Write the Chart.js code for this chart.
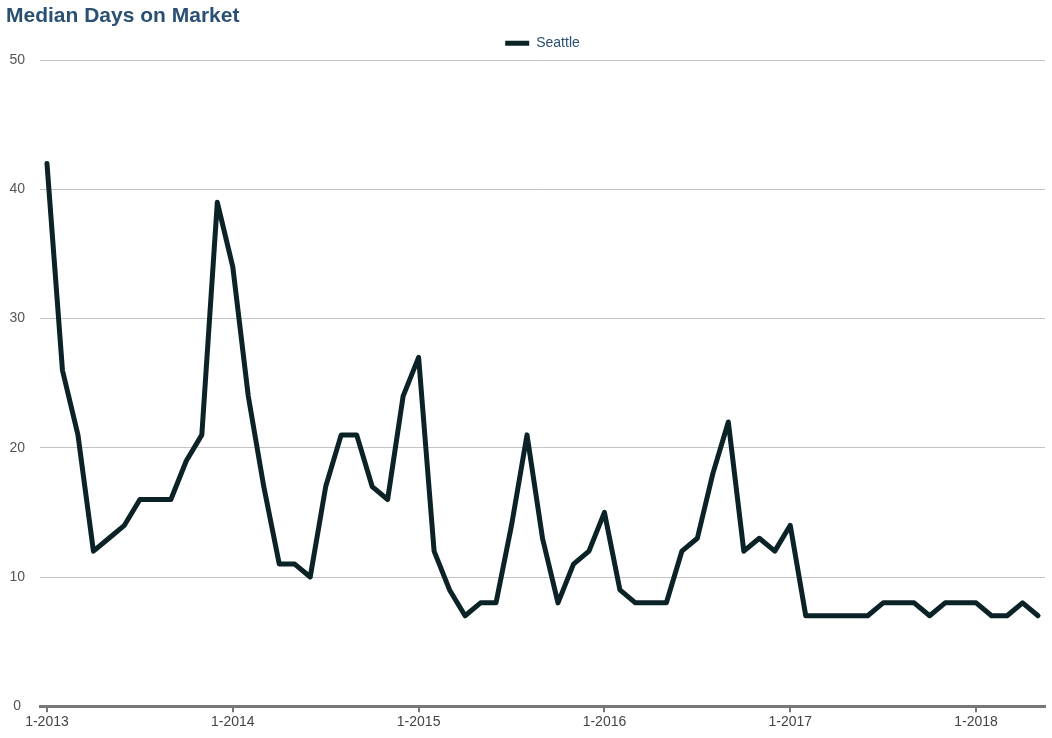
<!DOCTYPE html>
<html>
<head>
<meta charset="utf-8">
<script src="https://cdn.jsdelivr.net/npm/chart.js@4"></script>
<style>
  html, body { margin: 0; padding: 0; background: #fff; }
  #wrap { width: 1052px; height: 738px; }
</style>
</head>
<body>
<div id="wrap"><canvas id="myChart"></canvas></div>
<script>
// monthly median days on market, 1-2013 .. 5-2018
const seattle = [
    42, 26, 21, 12, 13, 14, 16, 16, 16, 19, 21, 39,
    34, 24, 17, 11, 11, 10, 17, 21, 21, 17, 16, 24,
    27, 12, 9, 7, 8, 8, 14, 21, 13, 8, 11, 12,
    15, 9, 8, 8, 8, 12, 13, 18, 22, 12, 13, 12,
    14, 7, 7, 7, 7, 7, 8, 8, 8, 7, 8, 8,
    8, 7, 7, 8, 7
]
const tickLabels = ['1-2013', '1-2014', '1-2015', '1-2016', '1-2017', '1-2018']
const tickPos = [0, 12, 24, 36, 48, 60]
const yTicks = [0, 10, 20, 30, 40, 50]

const points = seattle.map((v, i) => ({ x: i, y: v }))

// center the legend over the plot area instead of the whole canvas
const legendShift = {
    id: 'legendShift',
    afterLayout(chart) {
        const lg = chart.legend
        const ca = chart.chartArea
        const d = (ca.left + ca.right) / 2 - (lg.left + lg.right) / 2
        lg.left += d
        lg.right += d
    }
}

const ctx = document.getElementById('myChart').getContext('2d')
const myChart = new Chart(ctx, {
    type: 'line',
    data: {
        datasets: [{
            label: 'Seattle',
            data: points,
            borderColor: '#0b2227',
            backgroundColor: '#0b2227',
            borderWidth: 5,
            borderJoinStyle: 'round',
            borderCapStyle: 'round',
            pointRadius: 0,
            tension: 0
        }]
    },
    plugins: [legendShift],
    options: {
        responsive: true,
        maintainAspectRatio: false,
        animation: false,
        layout: { padding: { left: 6, right: 7, top: 0, bottom: 5 } },
        plugins: {
            title: {
                display: true,
                text: 'Median Days on Market',
                align: 'start',
                color: '#2a5074',
                font: { family: 'Liberation Sans', size: 21, weight: 'bold' },
                padding: { top: 4, bottom: 0 }
            },
            legend: {
                display: true,
                labels: {
                    boxWidth: 24,
                    boxHeight: 5,
                    color: '#2a5074',
                    font: { family: 'Liberation Sans', size: 14 },
                    padding: 7,
                    generateLabels: (chart) => {
                        const items = Chart.defaults.plugins.legend.labels.generateLabels(chart)
                        items.forEach(it => { it.lineWidth = 0 })
                        return items
                    }
                }
            },
            tooltip: { enabled: false }
        },
        scales: {
            x: {
                type: 'linear',
                min: -0.45,
                max: 64.45,
                afterBuildTicks: (scale) => {
                    scale.ticks = tickPos.map(v => ({ value: v }))
                },
                ticks: {
                    callback: (v) => tickLabels[tickPos.indexOf(v)],
                    color: '#444',
                    font: { family: 'Liberation Sans', size: 14 },
                    maxRotation: 0,
                    padding: 2
                },
                grid: {
                    drawOnChartArea: false,
                    drawTicks: true,
                    tickLength: 6,
                    color: '#777',
                    lineWidth: 2
                },
                border: { display: true, color: '#777', width: 3 }
            },
            y: {
                min: 0,
                max: 50,
                afterBuildTicks: (scale) => {
                    scale.ticks = yTicks.map(v => ({ value: v }))
                },
                afterFit: (scale) => { scale.width = 34 },
                ticks: {
                    color: '#555',
                    font: { family: 'Liberation Sans', size: 14 },
                    crossAlign: 'center',
                    padding: 15
                },
                grid: { color: '#c4c4c4', lineWidth: 1, drawTicks: false },
                border: { display: false }
            }
        }
    }
})
</script>
</body>
</html>
